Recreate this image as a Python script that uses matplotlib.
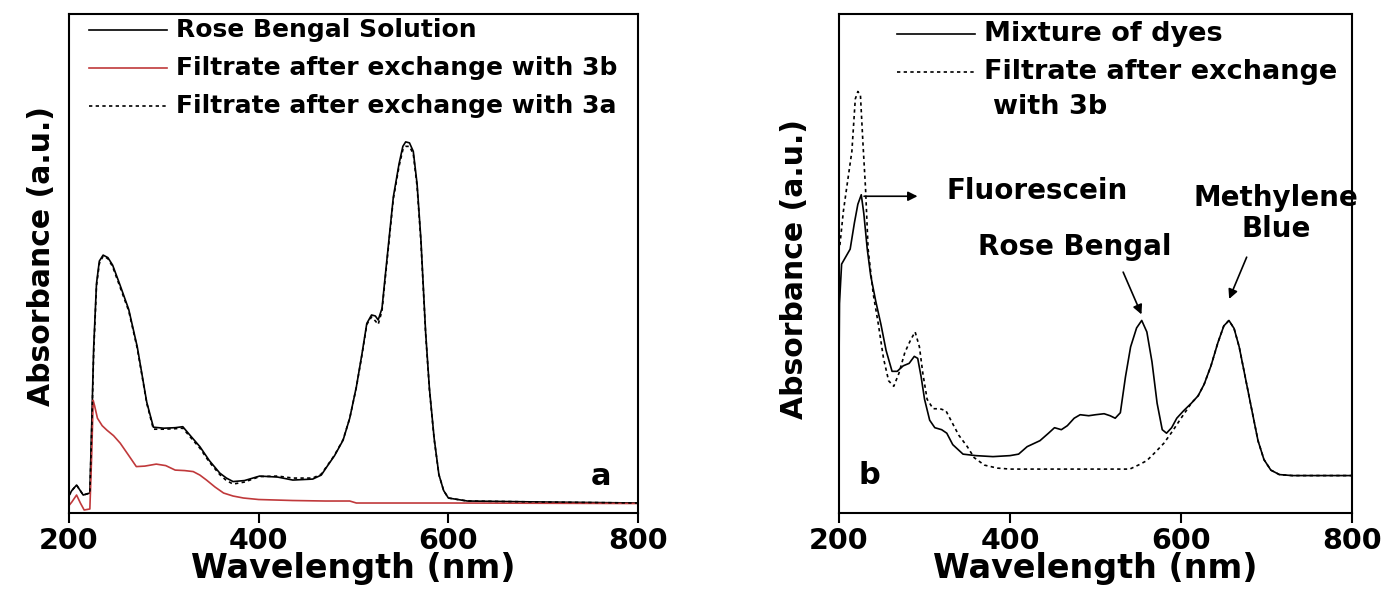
import matplotlib
matplotlib.use("Agg")
import matplotlib.pyplot as plt

# --- DATA (absorbance in arbitrary units) ---
# panel a: Rose Bengal solution
wl_rb = [200, 203, 208, 215, 222, 224, 226, 229, 232, 236,
         241, 246, 254, 263, 272, 282, 289, 300, 312, 320,
         328, 338, 348, 359, 366, 373, 385, 401, 420, 436,
         457, 466, 472, 480, 489, 496, 503, 509, 514, 519,
         523, 526, 530, 533, 538, 542, 548, 552, 555, 559,
         563, 567, 571, 576, 580, 585, 590, 595, 600, 620,
         700, 800]
rb_solution = [0.035, 0.045, 0.056, 0.036, 0.04, 0.18, 0.33, 0.46, 0.505, 0.517,
               0.512, 0.497, 0.456, 0.408, 0.333, 0.222, 0.172, 0.170, 0.171, 0.173,
               0.155, 0.133, 0.105, 0.080, 0.070, 0.063, 0.065, 0.074, 0.072, 0.066,
               0.068, 0.076, 0.093, 0.115, 0.146, 0.19, 0.253, 0.32, 0.38, 0.397,
               0.395, 0.387, 0.41, 0.467, 0.56, 0.634, 0.70, 0.735, 0.744, 0.742,
               0.725, 0.66, 0.55, 0.363, 0.25, 0.15, 0.077, 0.045, 0.03, 0.024,
               0.022, 0.020]
rb_filtrate_3a = [0.035, 0.045, 0.056, 0.036, 0.04, 0.17, 0.32, 0.455, 0.50, 0.515,
                  0.510, 0.494, 0.452, 0.405, 0.330, 0.220, 0.168, 0.168, 0.169, 0.170,
                  0.152, 0.130, 0.102, 0.077, 0.065, 0.058, 0.062, 0.073, 0.074, 0.070,
                  0.070, 0.078, 0.094, 0.116, 0.147, 0.19, 0.252, 0.318, 0.378, 0.393,
                  0.385, 0.378, 0.405, 0.462, 0.555, 0.63, 0.695, 0.728, 0.735, 0.735,
                  0.72, 0.655, 0.545, 0.36, 0.248, 0.148, 0.077, 0.045, 0.03, 0.024,
                  0.022, 0.020]

# panel a: filtrate after exchange with 3b (red)
wl_3b = [200, 203, 208, 212, 216, 222, 224, 225.5, 227, 230,
         235, 240, 247, 254, 262, 271, 280, 292, 302, 312,
         322, 331, 338, 345, 354, 363, 373, 384, 400, 436,
         470, 496, 503, 600, 800]
rb_filtrate_3b = [0.015, 0.022, 0.036, 0.02, 0.006, 0.008, 0.12, 0.226, 0.215, 0.19,
                  0.175, 0.166, 0.155, 0.14, 0.118, 0.093, 0.094, 0.098, 0.095, 0.086,
                  0.085, 0.083, 0.076, 0.066, 0.052, 0.040, 0.034, 0.030, 0.027, 0.025,
                  0.024, 0.024, 0.020, 0.020, 0.019]

# panel b: mixture of dyes
wl_mix = [200, 200.5, 203, 208, 213, 218, 222, 226, 229, 233,
          237, 243, 249, 255, 262, 268, 275, 282, 288, 292,
          296, 300, 306, 312, 320, 326, 333, 345, 360, 380,
          400, 410, 420, 435, 445, 452, 460, 467, 475, 482,
          492, 500, 510, 517, 523, 529, 535, 541, 548, 554,
          560, 566, 572, 578, 583, 589, 595, 603, 612, 620,
          627, 635, 643, 650, 656, 662, 668, 675, 682, 690,
          697, 705, 715, 730, 800]
mixture = [0.303, 0.42, 0.499, 0.514, 0.529, 0.582, 0.619, 0.638, 0.60, 0.529,
           0.476, 0.424, 0.378, 0.326, 0.284, 0.284, 0.295, 0.30, 0.314, 0.31,
           0.273, 0.228, 0.186, 0.171, 0.167, 0.16, 0.137, 0.118, 0.115, 0.113,
           0.115, 0.118, 0.133, 0.145, 0.16, 0.171, 0.167, 0.175, 0.19, 0.197,
           0.195, 0.197, 0.199, 0.195, 0.19, 0.201, 0.273, 0.333, 0.371, 0.386,
           0.363, 0.303, 0.22, 0.167, 0.16, 0.171, 0.19, 0.205, 0.22, 0.235,
           0.258, 0.295, 0.341, 0.375, 0.386, 0.37, 0.333, 0.273, 0.213, 0.145,
           0.107, 0.086, 0.077, 0.075, 0.075]

# panel b: filtrate after exchange with 3b
wl_mix_3b = [201, 205, 210, 215, 219, 222, 225, 228, 231, 234,
             240, 246, 252, 258, 264, 270, 277, 284, 289, 294,
             298, 303, 310, 318, 325, 332, 340, 350, 358, 370,
             385, 400, 450, 500, 540, 550, 560, 570, 580, 590,
             600, 612, 620, 627, 635, 643, 650, 656, 662, 668,
             675, 682, 690, 697, 705, 715, 730, 800]
mix_filtrate_3b = [0.537, 0.604, 0.665, 0.725, 0.83, 0.845, 0.838, 0.74, 0.65, 0.529,
                   0.439, 0.378, 0.31, 0.265, 0.254, 0.28, 0.322, 0.348, 0.363, 0.333,
                   0.28, 0.228, 0.209, 0.209, 0.205, 0.182, 0.156, 0.133, 0.111, 0.096,
                   0.09, 0.088, 0.088, 0.088, 0.088, 0.096, 0.105, 0.122, 0.14, 0.164,
                   0.19, 0.22, 0.235, 0.258, 0.295, 0.341, 0.375, 0.386, 0.37, 0.333,
                   0.273, 0.213, 0.145, 0.107, 0.086, 0.077, 0.075, 0.075]

x_ticks = [200, 400, 600, 800]

# --- STYLE ---
plt.rcParams["font.family"] = ["DejaVu Sans"]
plt.rcParams["font.weight"] = "bold"
DOTTED = (0, (2, 2))
RED = "#c0393b"

fig = plt.figure(figsize=(13.88, 5.91), dpi=100)
ax_a = fig.add_axes([0.0497, 0.132, 0.410, 0.844])
ax_b = fig.add_axes([0.6045, 0.132, 0.3696, 0.844])

for ax in (ax_a, ax_b):
    ax.set_xlim(200, 800)
    ax.set_ylim(0, 1)
    ax.set_xticks(x_ticks)
    ax.set_yticks([])
    ax.tick_params(axis="x", direction="out", length=7, width=1.5,
                   labelsize=20.5, pad=3)
    for lab in ax.get_xticklabels():
        lab.set_fontweight("bold")
    for sp in ax.spines.values():
        sp.set_linewidth(1.5)
    ax.set_xlabel("Wavelength (nm)", fontsize=24, fontweight="bold", labelpad=-2)
    ax.set_ylabel("Absorbance (a.u.)", fontsize=21.5, fontweight="bold")

# ylabel anchor is the right-hand edge of the rotated text
ax_a.yaxis.set_label_coords(-0.022, 0.515)
ax_b.yaxis.set_label_coords(-0.058, 0.49)

# --- PANEL a ---
ax_a.plot(wl_rb, rb_solution, color="black", lw=1.2)
ax_a.plot(wl_3b, rb_filtrate_3b, color=RED, lw=1.2)
ax_a.plot(wl_rb, rb_filtrate_3a, color="black", lw=1.2, linestyle=DOTTED)

# legend drawn by hand to keep the original placement
legend_a = [("Rose Bengal Solution", "black", "-"),
            ("Filtrate after exchange with 3b", RED, "-"),
            ("Filtrate after exchange with 3a", "black", DOTTED)]
for i, (txt, col, ls) in enumerate(legend_a):
    yy = 0.968 - i * 0.076
    ax_a.plot([0.035, 0.172], [yy, yy], transform=ax_a.transAxes,
              color=col, lw=1.2, linestyle=ls)
    ax_a.text(0.188, yy, txt, transform=ax_a.transAxes, fontsize=18,
              fontweight="bold", va="center", ha="left")

ax_a.text(761, 0.073, "a", fontsize=22, fontweight="bold", ha="center", va="center")

# --- PANEL b ---
ax_b.plot(wl_mix, mixture, color="black", lw=1.2)
ax_b.plot(wl_mix_3b, mix_filtrate_3b, color="black", lw=1.2, linestyle=DOTTED)

ax_b.plot([0.113, 0.265], [0.96, 0.96], transform=ax_b.transAxes, color="black", lw=1.2)
ax_b.text(0.283, 0.96, "Mixture of dyes", transform=ax_b.transAxes, fontsize=19.5,
          fontweight="bold", va="center", ha="left")
ax_b.plot([0.113, 0.265], [0.885, 0.885], transform=ax_b.transAxes, color="black",
          lw=1.2, linestyle=DOTTED)
ax_b.text(0.283, 0.885, "Filtrate after exchange", transform=ax_b.transAxes,
          fontsize=19.5, fontweight="bold", va="center", ha="left")
ax_b.text(0.300, 0.813, "with 3b", transform=ax_b.transAxes,
          fontsize=19.5, fontweight="bold", va="center", ha="left")

arrow = dict(arrowstyle="-|>", color="black", lw=1.2, mutation_scale=14)
ax_b.annotate("", xy=(295, 0.635), xytext=(226, 0.635), arrowprops=arrow)
ax_b.text(326, 0.645, "Fluorescein", fontsize=20, fontweight="bold",
          ha="left", va="center")
ax_b.annotate("", xy=(555, 0.393), xytext=(531, 0.488), arrowprops=arrow)
ax_b.text(476, 0.533, "Rose Bengal", fontsize=20, fontweight="bold",
          ha="center", va="center")
ax_b.annotate("", xy=(655, 0.424), xytext=(678, 0.518), arrowprops=arrow)
ax_b.text(711, 0.60, "Methylene\nBlue", fontsize=20, fontweight="bold",
          ha="center", va="center", linespacing=1.15)

ax_b.text(236, 0.075, "b", fontsize=22, fontweight="bold", ha="center", va="center")

fig.savefig("out.png", dpi=100)
